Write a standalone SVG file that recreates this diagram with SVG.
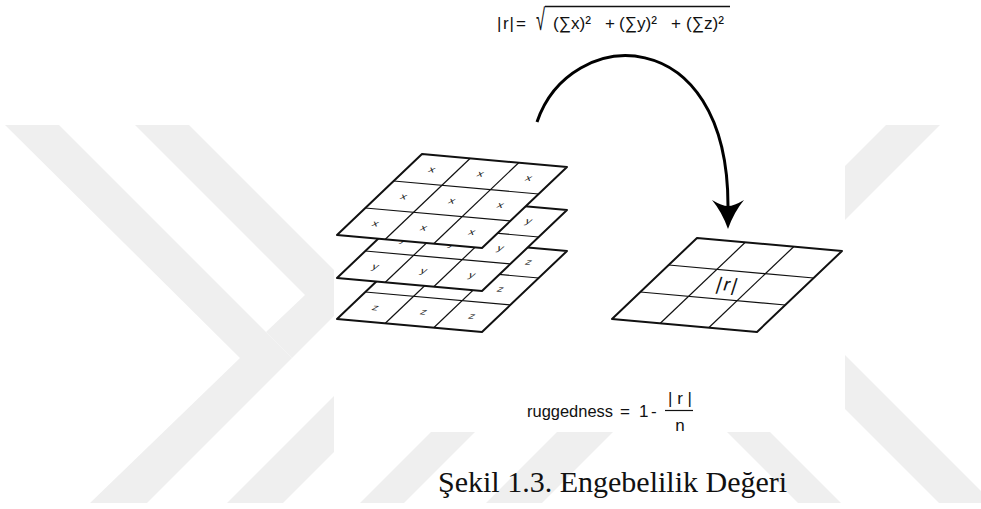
<svg xmlns="http://www.w3.org/2000/svg" xmlns:xlink="http://www.w3.org/1999/xlink" width="981" height="509" viewBox="0 0 981 509">
<style>
.wm{fill:#efefef}
.frame{fill:#fff;stroke:#111;stroke-width:2;stroke-linejoin:round}
.inner{stroke:#111;stroke-width:1.2;fill:none}
.lab{font-family:"Liberation Sans",Arial,sans-serif;font-size:12px;fill:#222;text-anchor:middle}
.f{font-family:"Liberation Sans",Arial,sans-serif;font-size:17px;fill:#111}
.cap{font-family:"Liberation Serif","Times New Roman",serif;font-size:30px;fill:#111}
.arc{fill:none;stroke:#000;stroke-width:3}
</style>
<defs>
<g id="grid">
<polygon class="frame" points="0,0 145,13 60,94 -85,81"/>
<line class="inner" x1="48.3" y1="4.3" x2="-36.7" y2="85.3"/>
<line class="inner" x1="96.7" y1="8.7" x2="11.7" y2="89.7"/>
<line class="inner" x1="-28.3" y1="27" x2="116.7" y2="40"/>
<line class="inner" x1="-56.7" y1="54" x2="88.3" y2="67"/>
</g>
<marker id="ah" markerUnits="userSpaceOnUse" viewBox="-10 -20 40 40" markerWidth="40" markerHeight="40" refX="0" refY="0" orient="auto">
<path d="M23,0 Q6,-6 -6,-16 Q0,-6 0,0 Q0,6 -6,16 Q6,6 23,0 Z" fill="#000"/>
</marker>
</defs>
<rect width="981" height="509" fill="#fff"/>
<g id="watermark">
<polygon class="wm" points="5,125 59,125 292,358 147,503 90,503 240,358"/>
<polygon class="wm" points="135,125 189,125 334,270 334,316 292,358 266,332 305,295"/>
<polygon class="wm" points="227,503 283,503 334,452 334,396"/>
<polygon class="wm" points="360,503 404,503 475,432 431,432"/>
<polygon class="wm" points="486,503 542,503 613,432 557,432"/>
<polygon class="wm" points="727,432 770,432 841,503 798,503"/>
<polygon class="wm" points="845,355 981,491 981,503 939,503 845,409"/>
<polygon class="wm" points="886,125 940,125 845,220 845,166"/>
</g>
<rect id="figure-bg" x="334" y="0" width="511" height="432" fill="#fff"/>
<g id="formula-top">
<text class="f" x="497 503 509.5 516" y="29">|r|=</text>
<text class="f" transform="translate(536,30) scale(0.55,1)" style="font-size:30px">√</text>
<line x1="545" y1="6.5" x2="730" y2="6.5" stroke="#111" stroke-width="1.3"/>
<text class="f" x="553" y="29" textLength="38" lengthAdjust="spacingAndGlyphs">(∑x)²</text>
<text class="f" x="605" y="29">+</text>
<text class="f" x="619" y="29" textLength="38" lengthAdjust="spacingAndGlyphs">(∑y)²</text>
<text class="f" x="671" y="29">+</text>
<text class="f" x="686" y="29" textLength="38" lengthAdjust="spacingAndGlyphs">(∑z)²</text>
</g>
<g id="connectors">
<path class="arc" d="M537,122 C570,25 728,20 728,206" marker-end="url(#ah)"/>
</g>
<g id="grid-z">
<use xlink:href="#grid" x="422" y="238"/>
<g class="lab">
<text transform="matrix(1,0.09,-0.4,0.7,528.7,262.3)" y="3.5">z</text>
<text transform="matrix(1,0.09,-0.4,0.7,500.3,289.3)" y="3.5">z</text>
<text transform="matrix(1,0.09,-0.4,0.7,375.3,307.7)" y="3.5">z</text>
<text transform="matrix(1,0.09,-0.4,0.7,423.7,312)" y="3.5">z</text>
<text transform="matrix(1,0.09,-0.4,0.7,472,316.3)" y="3.5">z</text>
</g>
</g>
<g id="grid-y">
<use xlink:href="#grid" x="422" y="197"/>
<g class="lab">
<text transform="matrix(1,0.09,-0.4,0.7,528.7,221.3)" y="3.5">y</text>
<text transform="matrix(1,0.09,-0.4,0.7,403.7,239.7)" y="3.5">y</text>
<text transform="matrix(1,0.09,-0.4,0.7,452,244)" y="3.5">y</text>
<text transform="matrix(1,0.09,-0.4,0.7,500.3,248.3)" y="3.5">y</text>
<text transform="matrix(1,0.09,-0.4,0.7,375.3,266.7)" y="3.5">y</text>
<text transform="matrix(1,0.09,-0.4,0.7,423.7,271)" y="3.5">y</text>
<text transform="matrix(1,0.09,-0.4,0.7,472,275.3)" y="3.5">y</text>
</g>
</g>
<g id="grid-x">
<use xlink:href="#grid" x="422" y="154"/>
<g class="lab">
<text transform="matrix(1,0.09,-0.4,0.7,432,169.7)" y="3.5">x</text>
<text transform="matrix(1,0.09,-0.4,0.7,480.3,174)" y="3.5">x</text>
<text transform="matrix(1,0.09,-0.4,0.7,528.7,178.3)" y="3.5">x</text>
<text transform="matrix(1,0.09,-0.4,0.7,403.7,196.7)" y="3.5">x</text>
<text transform="matrix(1,0.09,-0.4,0.7,452,201)" y="3.5">x</text>
<text transform="matrix(1,0.09,-0.4,0.7,500.3,205.3)" y="3.5">x</text>
<text transform="matrix(1,0.09,-0.4,0.7,375.3,223.7)" y="3.5">x</text>
<text transform="matrix(1,0.09,-0.4,0.7,423.7,228)" y="3.5">x</text>
<text transform="matrix(1,0.09,-0.4,0.7,472,232.3)" y="3.5">x</text>
</g>
</g>
<g id="grid-r">
<use xlink:href="#grid" x="697" y="238"/>
<text class="f" transform="matrix(1,0.09,-0.3,0.95,728,285)" y="6" text-anchor="middle" style="font-size:19px;letter-spacing:2px">|r|</text>
</g>
<g id="formula-bottom">
<text class="f" x="527" y="417" textLength="86" lengthAdjust="spacingAndGlyphs">ruggedness</text>
<text class="f" x="620" y="417">=</text>
<text class="f" x="639" y="417">1</text>
<text class="f" x="651" y="417">-</text>
<text class="f" x="680" y="404" text-anchor="middle">| r |</text>
<line x1="665" y1="410.5" x2="693" y2="410.5" stroke="#111" stroke-width="1.2"/>
<text class="f" x="680" y="431" text-anchor="middle">n</text>
</g>
<text id="caption" class="cap" x="438" y="492">Şekil 1.3. Engebelilik Değeri</text>
</svg>
